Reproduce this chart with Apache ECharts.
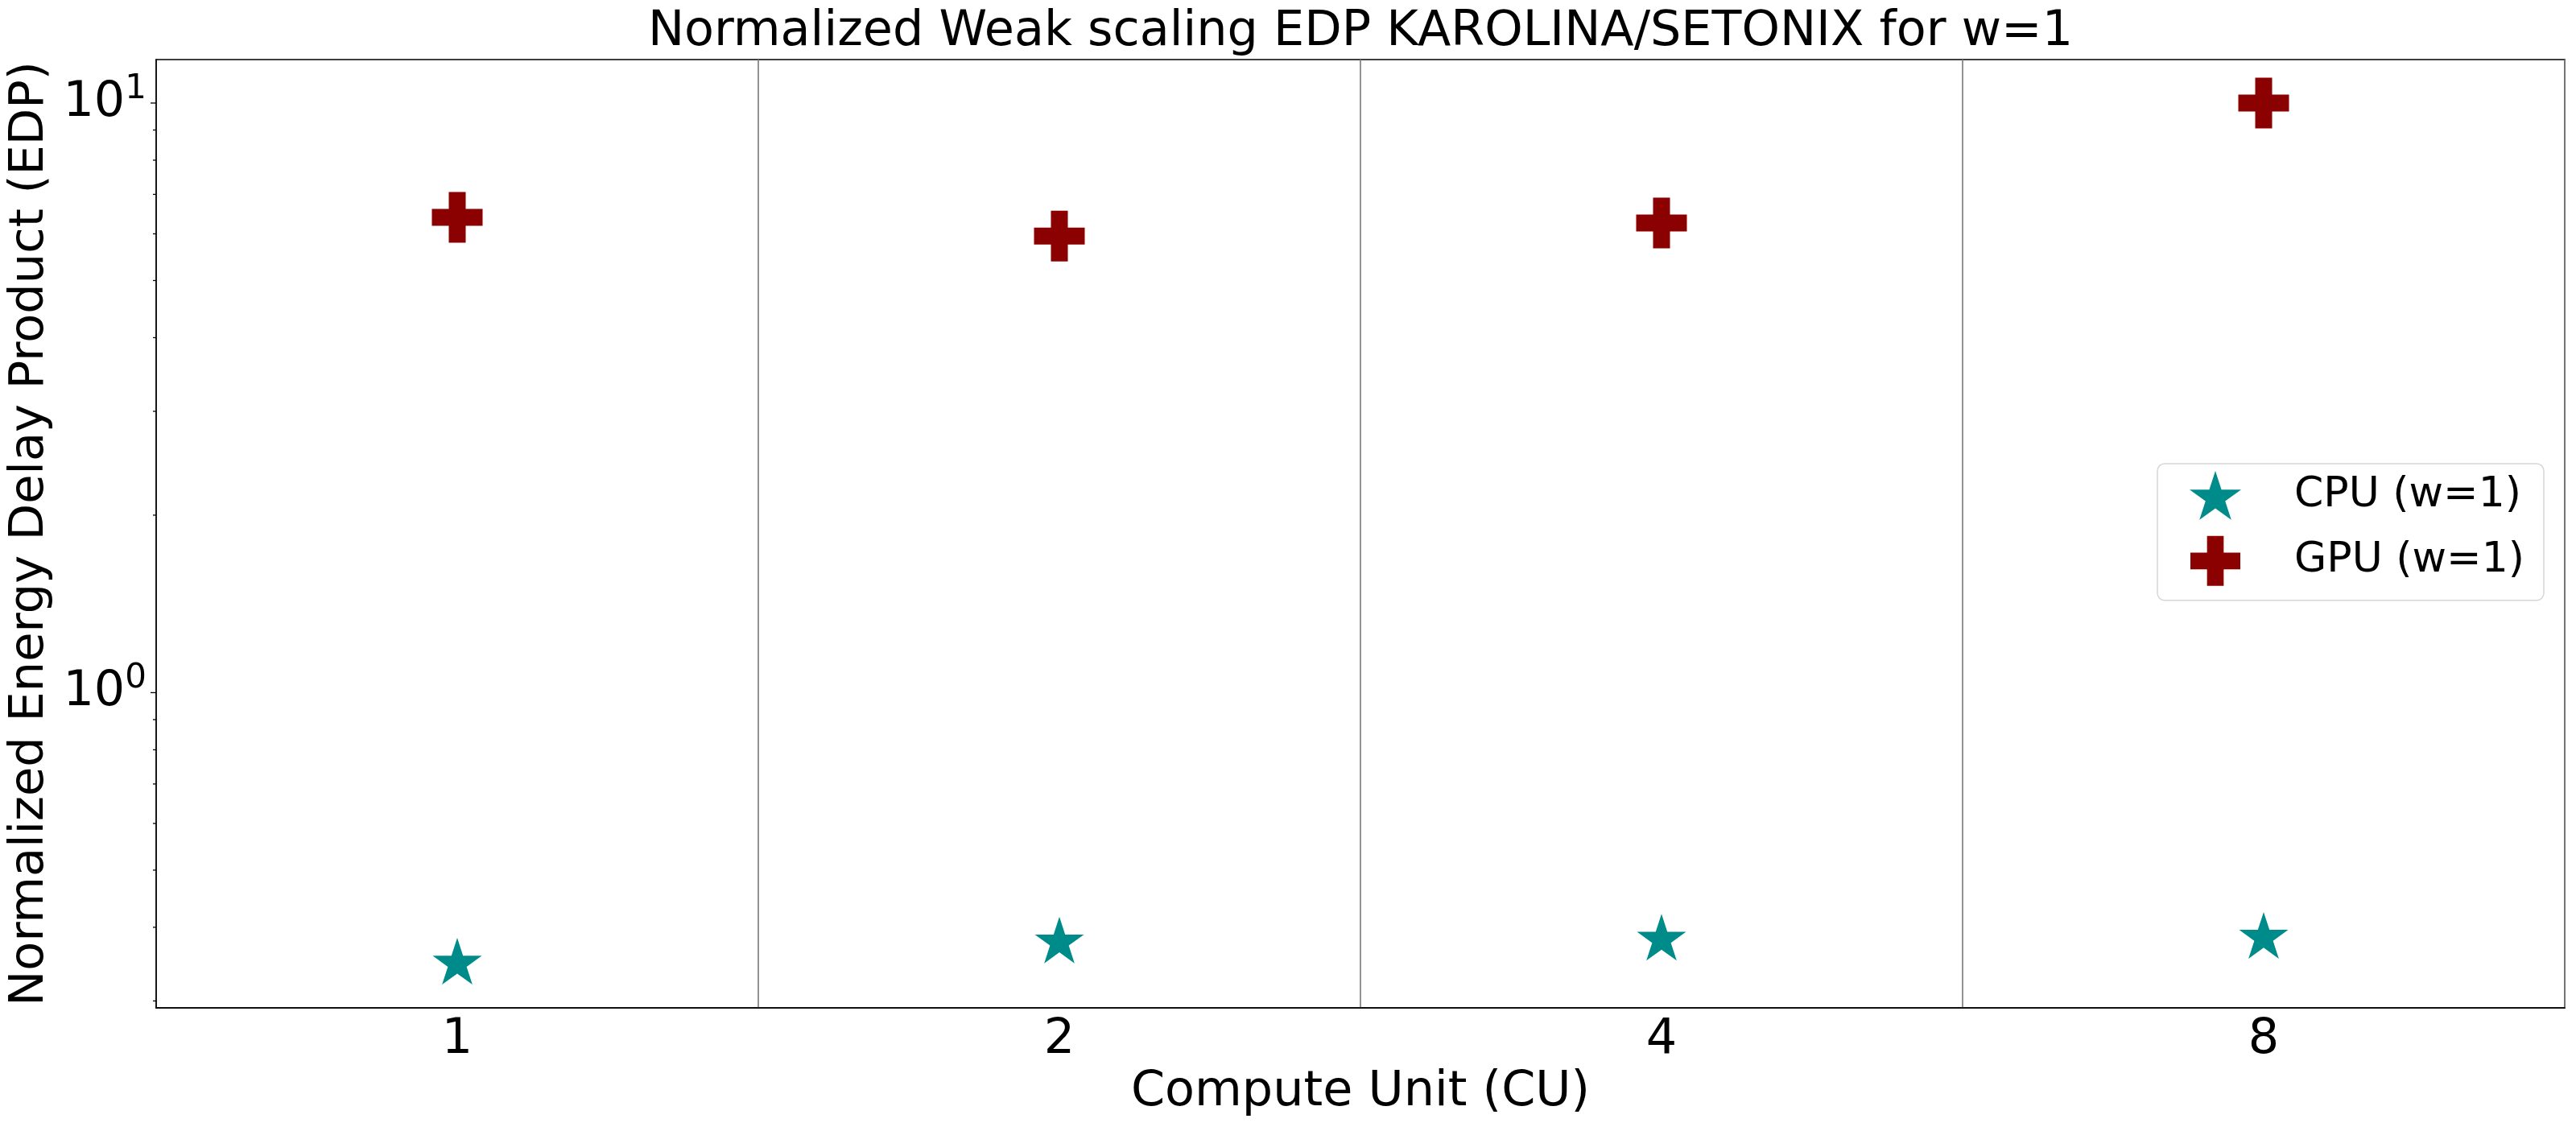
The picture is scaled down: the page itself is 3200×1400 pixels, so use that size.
<!DOCTYPE html>
<html>
<head>
<meta charset="utf-8">
<title>Normalized Weak scaling EDP</title>
<script src="https://cdn.jsdelivr.net/npm/echarts@6/dist/echarts.min.js"></script>
<style>
  html, body { margin: 0; padding: 0; background: #fff; }
  #chart { width: 3200px; height: 1400px; }
</style>
</head>
<body>
<div id="chart"></div>
<script>
// data
var computeUnits = ['1', '2', '4', '8'];
var cpuEdp = [0.347, 0.377, 0.381, 0.384];
var gpuEdp = [6.40, 5.95, 6.26, 10.0];
var majorTicks = [1, 10];
var minorTicks = [0.3, 0.4, 0.5, 0.6, 0.7, 0.8, 0.9, 2, 3, 4, 5, 6, 7, 8, 9];

var FONT = 'DejaVu Sans';
var FS = 60.4;
var STAR = 'path://M0,-100 L22.45,-30.9 L95.11,-30.9 L36.33,11.8 L58.78,80.9 L0,38.2 L-58.78,80.9 L-36.33,11.8 L-95.11,-30.9 L-22.45,-30.9 Z';
var PLUS = 'path://M-1,-3 L1,-3 L1,-1 L3,-1 L3,1 L1,1 L1,3 L-1,3 L-1,1 L-3,1 L-3,-1 L-1,-1 Z';

var tickData = majorTicks.map(function (v) { return [0, v, 7]; })
    .concat(minorTicks.map(function (v) { return [0, v, 4]; }));

var chart = echarts.init(document.getElementById('chart'), null, { renderer: 'canvas' });

var option = {
    backgroundColor: '#fff',
    animation: false,
    textStyle: { fontFamily: FONT },
    title: {
        text: 'Normalized Weak scaling EDP KAROLINA/SETONIX for w=1',
        left: 1690,
        textAlign: 'center',
        top: 10,
        padding: 0,
        textStyle: { fontFamily: FONT, fontSize: FS, fontWeight: 'normal', color: '#000' }
    },
    legend: {
        orient: 'vertical',
        right: 40,
        top: 576,
        data: ['CPU (w=1)', 'GPU (w=1)'],
        itemWidth: 64,
        itemHeight: 62,
        itemGap: 20,
        padding: [9, 24, 18, 40],
        borderColor: '#d6d6d6',
        borderWidth: 1.5,
        borderRadius: 9,
        backgroundColor: 'rgba(255,255,255,0.8)',
        selectedMode: false,
        formatter: function (name) { return '{g|}{t|' + name + '}'; },
        textStyle: {
            fontFamily: FONT,
            fontSize: 52,
            color: '#000',
            rich: {
                g: { width: 61 },
                t: { fontFamily: FONT, fontSize: 52, color: '#000' }
            }
        }
    },
    grid: {
        left: 194,
        right: 14,
        top: 74,
        bottom: 148,
        show: true,
        borderColor: '#000',
        borderWidth: 1.6,
        containLabel: false,
        outerBoundsMode: 'none'
    },
    xAxis: {
        type: 'category',
        data: computeUnits,
        boundaryGap: true,
        name: 'Compute Unit (CU)',
        nameLocation: 'middle',
        nameGap: 71,
        nameTextStyle: { fontFamily: FONT, fontSize: FS, color: '#000' },
        axisLine: { lineStyle: { color: '#000', width: 1.6 } },
        axisTick: { alignWithLabel: true, length: 7, lineStyle: { color: '#000', width: 1.3 } },
        axisLabel: { margin: 10, fontFamily: FONT, fontSize: FS, color: '#000' },
        splitLine: { show: true, lineStyle: { color: '#808080', width: 1.7 } }
    },
    yAxis: {
        type: 'log',
        logBase: 10,
        min: 0.292,
        max: 11.85,
        name: 'Normalized Energy Delay Product (EDP)',
        nameLocation: 'middle',
        nameRotate: 90,
        nameGap: 104,
        nameTextStyle: { fontFamily: FONT, fontSize: 59, color: '#000' },
        axisLine: { show: true, lineStyle: { color: '#000', width: 1.6 } },
        axisTick: { show: false },
        splitLine: { show: false },
        axisLabel: {
            margin: 12,
            showMinLabel: false,
            showMaxLabel: false,
            formatter: function (v) {
                var e = Math.log10(v);
                if (Math.abs(e - Math.round(e)) > 1e-6) return '';
                return '{b|10}{s|' + Math.round(e) + '}';
            },
            rich: {
                b: { fontFamily: FONT, fontSize: FS, lineHeight: 76, color: '#000' },
                s: { fontFamily: FONT, fontSize: 42, lineHeight: 42, verticalAlign: 'top', color: '#000' }
            }
        }
    },
    series: [
        {
            name: 'CPU (w=1)',
            type: 'scatter',
            data: cpuEdp,
            symbol: STAR,
            symbolSize: [61, 58],
            symbolOffset: [0, -3],
            itemStyle: { color: '#008b8b', opacity: 1 },
            z: 3
        },
        {
            name: 'GPU (w=1)',
            type: 'scatter',
            data: gpuEdp,
            symbol: PLUS,
            symbolSize: [63, 63],
            itemStyle: { color: '#8b0000', opacity: 1 },
            z: 3
        },
        {
            // y ticks at the log positions (major and minor), like matplotlib
            name: 'yticks',
            type: 'custom',
            silent: true,
            clip: false,
            data: tickData,
            renderItem: function (params, api) {
                var y = api.coord([0, api.value(1)])[1];
                var x0 = params.coordSys.x;
                var len = api.value(2);
                return {
                    type: 'line',
                    shape: { x1: x0 - len, y1: y, x2: x0, y2: y },
                    style: { stroke: '#000', lineWidth: 1.3 }
                };
            }
        }
    ]
};

chart.setOption(option);
</script>
</body>
</html>
